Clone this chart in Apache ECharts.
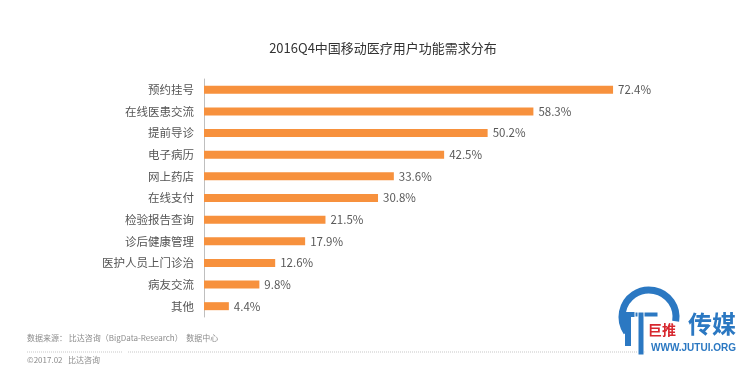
<!DOCTYPE html>
<html><head><meta charset="utf-8">
<script src="https://cdn.jsdelivr.net/npm/echarts@6/dist/echarts.min.js"></script>
<style>html,body{margin:0;padding:0;background:#fff}#c{width:756px;height:366px}</style>
</head><body><div id="c"></div>
<script>
const categories = ['预约挂号','在线医患交流','提前导诊','电子病历','网上药店','在线支付','检验报告查询','诊后健康管理','医护人员上门诊治','病友交流','其他'];
const values = [72.4, 58.3, 50.2, 42.5, 33.6, 30.8, 21.5, 17.9, 12.6, 9.8, 4.4];
const titleText = '2016Q4中国移动医疗用户功能需求分布';
const sourceText = '数据来源： 比达咨询（BigData-Research）  数据中心';
const copyText = '©2017.02   比达咨询';

const chart = echarts.init(document.getElementById('c'));
const FONT = '"Noto Sans CJK SC", "Noto Sans", sans-serif';
const BLUE = '#2B78C2';
chart.setOption({
  animation: false,
  backgroundColor: '#fff',
  title: { text: titleText, left: 378, textAlign: 'center', top: 37,
    textStyle: { fontSize: 13, fontWeight: 'normal', color: '#333', fontFamily: FONT } },
  grid: { left: 204, top: 79, width: 452, height: 238, containLabel: false },
  xAxis: { type: 'value', min: 0, max: 80, show: false },
  yAxis: { type: 'category', data: categories, inverse: true,
    axisLine: { show: true, lineStyle: { color: '#bfbfbf', width: 1 } },
    axisTick: { show: false },
    axisLabel: { color: '#555', fontSize: 11.5, margin: 10, fontFamily: FONT } },
  series: [{ type: 'bar', data: values, barWidth: 8,
    itemStyle: { color: '#F7913D' },
    label: { show: true, position: 'right', distance: 5, color: '#595959', fontSize: 11.5,
      fontFamily: FONT, formatter: p => p.value.toFixed(1) + '%' } }],
  graphic: [
    { type: 'text', left: 27, top: 334, style: { text: sourceText, fontSize: 8, fill: '#8c8c8c', fontFamily: FONT } },
    { type: 'line', shape: { x1: 27, y1: 352, x2: 123, y2: 352 }, style: { stroke: '#c8c8c8', lineWidth: 1, lineDash: [1, 1] } },
    { type: 'line', shape: { x1: 128, y1: 352, x2: 645, y2: 352 }, style: { stroke: '#c8c8c8', lineWidth: 1, lineDash: [1, 1] } },
    { type: 'text', left: 27, top: 356, style: { text: copyText, fontSize: 8, fill: '#8c8c8c', fontFamily: FONT } },
    { type: 'arc', shape: { cx: 649, cy: 317, r: 27, startAngle: Math.PI * 0.81, endAngle: Math.PI * 2.05, clockwise: true },
      style: { stroke: BLUE, lineWidth: 7, fill: null } },
    { type: 'rect', shape: { x: 622, y: 312, width: 15, height: 5 }, style: { fill: BLUE } },
    { type: 'rect', shape: { x: 625, y: 312, width: 6, height: 34 }, style: { fill: BLUE } },
    { type: 'rect', shape: { x: 635, y: 312, width: 23, height: 5 }, style: { fill: BLUE, stroke: '#fff', lineWidth: 1 } },
    { type: 'rect', shape: { x: 638, y: 312, width: 6, height: 43 }, style: { fill: BLUE, stroke: '#fff', lineWidth: 1 } },
    { type: 'text', x: 648, y: 323, style: { text: '巨推', fontSize: 14, fontWeight: 'bold', fill: '#D7282F', fontFamily: FONT } },
    { type: 'text', x: 688, y: 312, style: { text: '传媒', fontSize: 24, fontWeight: 'bold', fill: BLUE, fontFamily: FONT } },
    { type: 'text', x: 651, y: 343, style: { text: 'WWW.JUTUI.ORG', fontSize: 10, fontWeight: 'bold', fill: BLUE, fontFamily: '"Liberation Sans", sans-serif' } }
  ]
});
</script></body></html>
